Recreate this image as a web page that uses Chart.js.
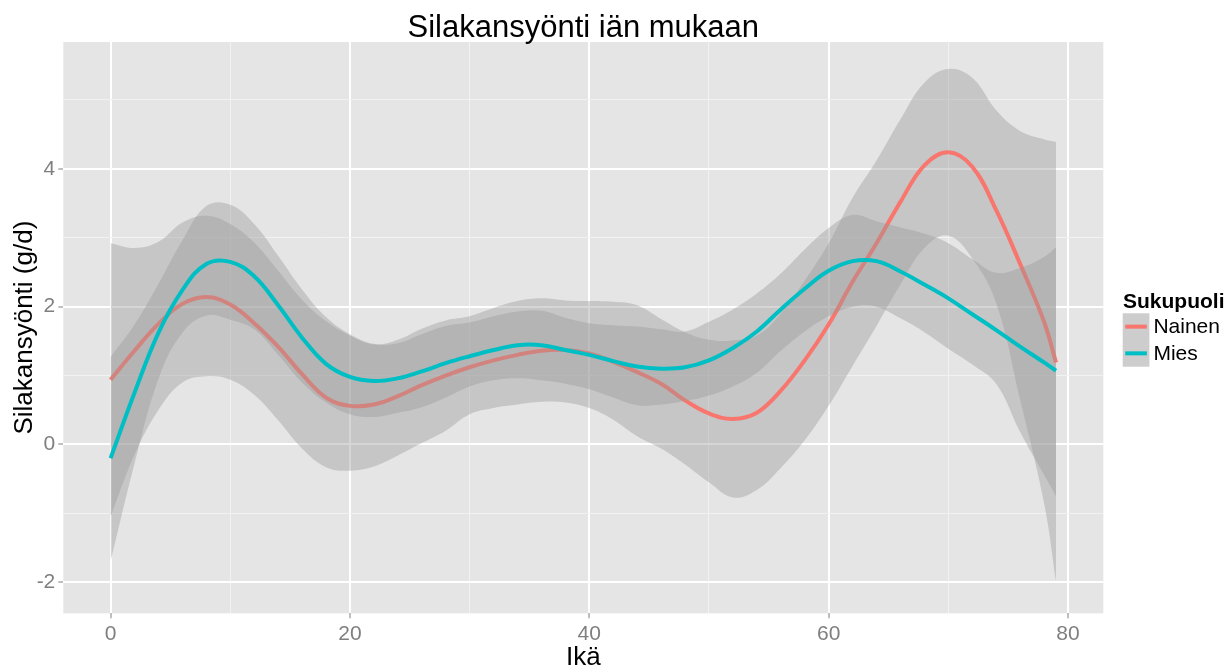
<!DOCTYPE html>
<html>
<head>
<meta charset="utf-8">
<script src="https://cdn.jsdelivr.net/npm/chart.js@4.4.1/dist/chart.umd.min.js"></script>
<style>
  html, body { margin: 0; padding: 0; background: #ffffff; }
  #wrap { width: 1232px; height: 668px; }
</style>
</head>
<body>
<div id="wrap"><canvas id="chart"></canvas></div>
<script>
// Silakansyönti iän mukaan: loess-käyrät ja luottamusvälit (luettu kuvasta)
const ages = [0, 2, 4, 6, 8, 10, 12, 14, 16, 18, 20, 22, 24, 26, 28, 30, 32, 34, 36, 38,
  40, 42, 44, 46, 48, 50, 52, 54, 56, 58, 60, 62, 64, 66, 68, 70, 72, 74, 76, 78, 79];

const nainenFit = [0.94, 1.36, 1.75, 2.04, 2.14, 2.03, 1.76, 1.42, 1.02, 0.68, 0.56, 0.58, 0.70, 0.86, 1.00, 1.12, 1.22, 1.30, 1.36, 1.37,
  1.32, 1.20, 1.05, 0.88, 0.64, 0.45, 0.37, 0.46, 0.78, 1.22, 1.74, 2.36, 2.92, 3.52, 4.05, 4.24, 4.03, 3.40, 2.62, 1.78, 1.19];
const nainenLower = [-1.05, -0.15, 0.50, 0.90, 0.99, 0.94, 0.72, 0.35, -0.06, -0.33, -0.38, -0.32, -0.16, 0.02, 0.20, 0.44, 0.53, 0.58, 0.62, 0.61,
  0.53, 0.36, 0.12, -0.06, -0.29, -0.55, -0.77, -0.66, -0.34, 0.06, 0.56, 1.14, 1.72, 2.32, 2.85, 3.03, 2.70, 2.05, 0.65, -0.85, -1.99];
const nainenUpper = [2.92, 2.85, 2.94, 3.22, 3.32, 3.20, 2.93, 2.52, 2.10, 1.79, 1.58, 1.45, 1.52, 1.68, 1.80, 1.86, 1.98, 2.08, 2.12, 2.09,
  2.08, 2.07, 2.02, 1.82, 1.63, 1.52, 1.51, 1.58, 1.90, 2.38, 2.92, 3.58, 4.12, 4.72, 5.25, 5.45, 5.32, 4.85, 4.55, 4.43, 4.39];

const miesFit = [-0.20, 0.75, 1.62, 2.24, 2.62, 2.65, 2.44, 2.02, 1.55, 1.17, 0.98, 0.92, 0.96, 1.06, 1.18, 1.28, 1.37, 1.44, 1.44, 1.37,
  1.30, 1.21, 1.13, 1.10, 1.12, 1.22, 1.40, 1.64, 1.96, 2.26, 2.52, 2.66, 2.66, 2.51, 2.32, 2.12, 1.89, 1.66, 1.42, 1.19, 1.07];
const miesLower = [-1.70, -0.28, 0.95, 1.62, 1.87, 1.81, 1.67, 1.30, 0.90, 0.61, 0.44, 0.40, 0.46, 0.54, 0.68, 0.84, 0.93, 0.96, 0.93, 0.88,
  0.80, 0.68, 0.57, 0.58, 0.63, 0.71, 0.84, 1.04, 1.36, 1.64, 1.86, 2.00, 2.00, 1.83, 1.63, 1.39, 1.16, 0.88, 0.18, -0.44, -0.75];
const miesUpper = [1.27, 1.74, 2.33, 2.96, 3.46, 3.48, 3.20, 2.74, 2.25, 1.85, 1.60, 1.46, 1.47, 1.60, 1.72, 1.77, 1.86, 1.93, 1.94, 1.84,
  1.76, 1.73, 1.71, 1.67, 1.64, 1.78, 1.96, 2.19, 2.48, 2.83, 3.14, 3.33, 3.24, 3.15, 3.06, 2.92, 2.69, 2.49, 2.56, 2.72, 2.86];

const groups = ['Nainen', 'Mies'];
const groupColors = ['#F8766D', '#00BFC4'];
const xTicks = [0, 10, 20, 30, 40, 50, 60, 70, 80];
const yTicks = [-2, -1, 0, 1, 2, 3, 4, 5];

const chartTitle = 'Silakansyönti iän mukaan';
const xTitle = 'Ikä';
const yTitle = 'Silakansyönti (g/d)';
const legendTitle = 'Sukupuoli';

const FONT = '"Liberation Sans", Arial, Helvetica, sans-serif';
const bandFill = 'rgba(153,153,153,0.4)';

function pts(ys) {
  return ages.map((a, i) => ({ x: a, y: ys[i] }));
}

const band = {
  pointRadius: 0,
  borderWidth: 0,
  borderColor: 'rgba(0,0,0,0)',
  tension: 0.4
};
const fitLine = {
  pointRadius: 0,
  borderWidth: 4,
  fill: false,
  tension: 0.4
};

// harmaa paneeli
const panelBg = {
  id: 'panelBg',
  beforeDraw(chart) {
    const { ctx, chartArea: a } = chart;
    ctx.save();
    ctx.fillStyle = '#E5E5E5';
    ctx.fillRect(a.left, a.top, a.right - a.left, a.bottom - a.top);
    ctx.restore();
  }
};

// otsikot ja selite
const ggText = {
  id: 'ggText',
  afterDraw(chart) {
    const { ctx, chartArea: a } = chart;
    const cx = (a.left + a.right) / 2;
    ctx.save();
    ctx.fillStyle = '#000000';
    ctx.textAlign = 'center';
    ctx.textBaseline = 'alphabetic';
    ctx.font = '31px ' + FONT;
    ctx.fillText(chartTitle, cx, 36.5);
    ctx.font = '26px ' + FONT;
    ctx.fillText(xTitle, cx, 664.5);
    ctx.save();
    ctx.translate(32, (a.top + a.bottom) / 2);
    ctx.rotate(-Math.PI / 2);
    ctx.fillText(yTitle, 0, 0);
    ctx.restore();

    // selite
    ctx.textAlign = 'left';
    ctx.font = 'bold 21px ' + FONT;
    ctx.fillText(legendTitle, 1123, 307.5);
    const keyX = 1122.7, keyW = 26.7, keyTop = 313.3;
    ctx.font = '21px ' + FONT;
    groups.forEach((g, i) => {
      const y0 = keyTop + i * keyW;
      ctx.fillStyle = '#CDCDCD';
      ctx.fillRect(keyX, y0, keyW, keyW);
      ctx.strokeStyle = groupColors[i];
      ctx.lineWidth = 4;
      ctx.beginPath();
      ctx.moveTo(keyX + 2.5, y0 + keyW / 2);
      ctx.lineTo(keyX + keyW - 2.5, y0 + keyW / 2);
      ctx.stroke();
      ctx.fillStyle = '#000000';
      ctx.textBaseline = 'middle';
      ctx.fillText(g, keyX + keyW + 4, y0 + keyW / 2 + 1);
    });
    ctx.restore();
  }
};

function isMajor(v, step) {
  return Math.abs(v % step) < 1e-9;
}

new Chart(document.getElementById('chart'), {
  type: 'line',
  data: {
    datasets: [
      { label: 'Nainen alaraja', data: pts(nainenLower), ...band, fill: false, order: 6 },
      { label: 'Nainen yläraja', data: pts(nainenUpper), ...band, fill: '-1', backgroundColor: bandFill, order: 5 },
      { label: groups[0], data: pts(nainenFit), ...fitLine, borderColor: groupColors[0], order: 4 },
      { label: 'Mies alaraja', data: pts(miesLower), ...band, fill: false, order: 3 },
      { label: 'Mies yläraja', data: pts(miesUpper), ...band, fill: '-1', backgroundColor: bandFill, order: 2 },
      { label: groups[1], data: pts(miesFit), ...fitLine, borderColor: groupColors[1], order: 1 }
    ]
  },
  options: {
    responsive: true,
    maintainAspectRatio: false,
    animation: false,
    events: [],
    layout: { padding: { top: 42, right: 128.7, bottom: 0, left: 0 } },
    plugins: {
      legend: { display: false },
      title: { display: false },
      tooltip: { enabled: false },
      filler: { propagate: false, drawTime: 'beforeDatasetDraw' }
    },
    scales: {
      x: {
        type: 'linear',
        min: -3.95,
        max: 82.95,
        afterBuildTicks: (s) => { s.ticks = xTicks.map(v => ({ value: v })); },
        afterFit: (s) => { s.height = 54.7; },
        border: { display: false },
        grid: {
          color: (c) => isMajor(c.tick.value, 20) ? '#FFFFFF' : '#F2F2F2',
          lineWidth: (c) => isMajor(c.tick.value, 20) ? 2 : 1,
          tickLength: 5,
          tickWidth: 1,
          tickColor: (c) => isMajor(c.tick.value, 20) ? '#7F7F7F' : 'rgba(0,0,0,0)'
        },
        ticks: {
          autoSkip: false,
          maxRotation: 0,
          padding: 3,
          color: '#7F7F7F',
          font: { family: FONT, size: 21 },
          callback: (v) => isMajor(v, 20) ? String(v) : ''
        }
      },
      y: {
        type: 'linear',
        min: -2.45,
        max: 5.84,
        afterBuildTicks: (s) => { s.ticks = yTicks.map(v => ({ value: v })); },
        afterFit: (s) => { s.width = 63.3; },
        border: { display: false },
        grid: {
          color: (c) => isMajor(c.tick.value, 2) ? '#FFFFFF' : '#F2F2F2',
          lineWidth: (c) => isMajor(c.tick.value, 2) ? 2 : 1,
          tickLength: 5,
          tickWidth: 1,
          tickColor: (c) => isMajor(c.tick.value, 2) ? '#7F7F7F' : 'rgba(0,0,0,0)'
        },
        ticks: {
          autoSkip: false,
          padding: 3,
          color: '#7F7F7F',
          font: { family: FONT, size: 21 },
          callback: (v) => isMajor(v, 2) ? String(v) : ''
        }
      }
    }
  },
  plugins: [panelBg, ggText]
});
</script>
</body>
</html>
